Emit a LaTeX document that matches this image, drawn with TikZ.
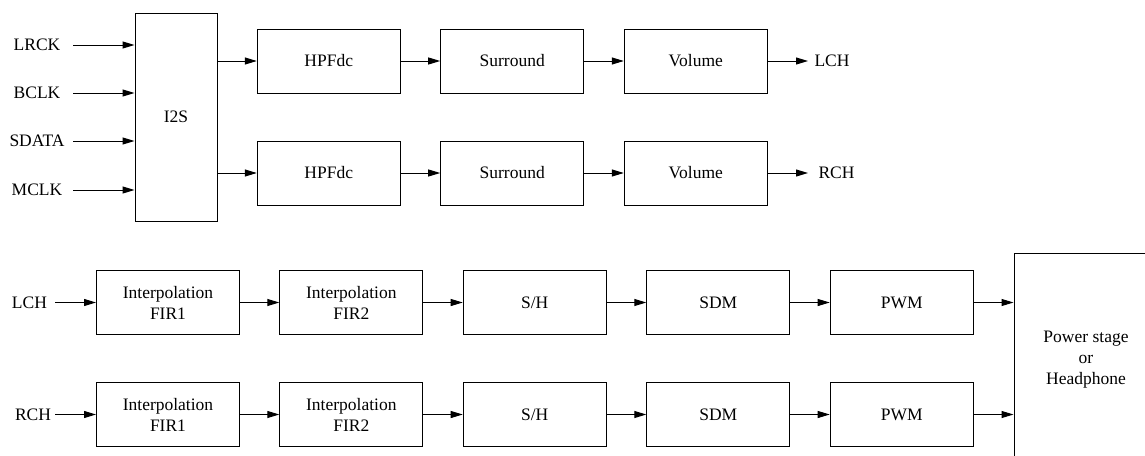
\documentclass[tikz,border=0pt]{standalone}
\usepackage{fontspec}
\setmainfont{Liberation Serif}
\usetikzlibrary{arrows.meta}
\begin{document}
\begin{tikzpicture}[x=1pt,y=-1pt,
  blk/.style={draw,line width=1pt,minimum width=143pt,minimum height=64pt,inner sep=0pt,align=center,font=\fontsize{17.5}{21}\selectfont},
  lbl/.style={inner sep=0pt,font=\fontsize{17.5}{21}\selectfont},
  arr/.style={line width=1pt,-{Triangle[length=12pt,width=7pt]}}]
\useasboundingbox (0,0) rectangle (1145,455);
\begin{scope}
\clip (0,0) rectangle (1145,455);
% I2S
\node[blk,minimum width=82pt,minimum height=208pt] (i2s) at (176,117) {I2S};
% inputs
\foreach \n/\t/\y in {lrck/LRCK/45,bclk/BCLK/93,sdata/SDATA/141,mclk/MCLK/190}{
  \node[lbl] (\n) at (37,\y) {\t};
  \coordinate (\n-s) at (73,\y);
  \draw[arr] (\n-s) -- (i2s.west |- \n-s);
}
% top rows
\foreach \r/\y in {1/61,2/173}{
  \node[blk] (hpf\r) at (328.8,\y) {HPFdc};
  \node[blk] (sur\r) at (512.2,\y) {Surround};
  \node[blk] (vol\r) at (695.8,\y) {Volume};
  \draw[arr] (i2s.east |- hpf\r) -- (hpf\r);
  \draw[arr] (hpf\r) -- (sur\r);
  \draw[arr] (sur\r) -- (vol\r);
  \coordinate (out\r) at (808,\y);
  \draw[arr] (vol\r) -- (out\r);
}
\node[lbl] (lcho) at (832,61) {LCH};
\node[lbl] (rcho) at (836.5,173) {RCH};
% power stage
\node[blk,minimum width=144pt,minimum height=214pt] (ps) at (1086,360) {Power stage\\or\\Headphone};
% bottom rows
\foreach \r/\y/\t/\tx in {1/302.5/LCH/29.5,2/414.5/RCH/33}{
  \node[lbl] (in\r) at (\tx,\y) {\t};
  \coordinate (in\r-s) at (55,\y);
  \node[blk] (fa\r) at (168,\y) {Interpolation\\FIR1};
  \node[blk] (fb\r) at (351.3,\y) {Interpolation\\FIR2};
  \node[blk] (sh\r) at (534.7,\y) {S/H};
  \node[blk] (sdm\r) at (718.3,\y) {SDM};
  \node[blk] (pwm\r) at (901.7,\y) {PWM};
  \draw[arr] (in\r-s) -- (fa\r);
  \draw[arr] (fa\r) -- (fb\r);
  \draw[arr] (fb\r) -- (sh\r);
  \draw[arr] (sh\r) -- (sdm\r);
  \draw[arr] (sdm\r) -- (pwm\r);
  \draw[arr] (pwm\r) -- (ps.west |- pwm\r);
}
\end{scope}
\end{tikzpicture}
\end{document}
